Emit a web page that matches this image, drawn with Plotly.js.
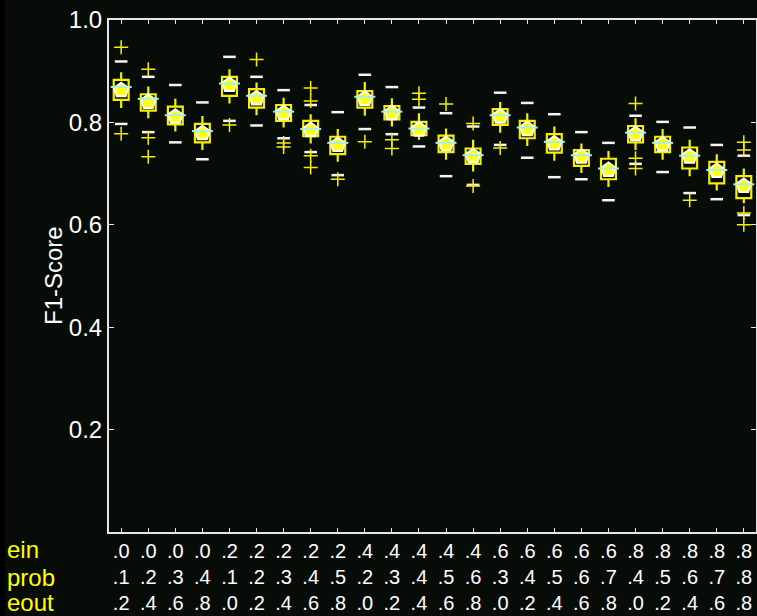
<!DOCTYPE html>
<html>
<head>
<meta charset="utf-8">
<script src="https://cdn.plot.ly/plotly-3.0.1.min.js"></script>
<style>
  html, body { margin: 0; padding: 0; background: #000; }
  #chart { position: absolute; left: 5px; top: 0; width: 752px; height: 616px; }
</style>
</head>
<body>
<div id="chart"></div>
<script>
// x tick label rows
const ein  = ['.0','.0','.0','.0','.2','.2','.2','.2','.2','.4','.4','.4','.4','.4','.6','.6','.6','.6','.6','.8','.8','.8','.8','.8'];
const prob = ['.1','.2','.3','.4','.1','.2','.3','.4','.5','.2','.3','.4','.5','.6','.3','.4','.5','.6','.7','.4','.5','.6','.7','.8'];
const eout = ['.2','.4','.6','.8','.0','.2','.4','.6','.8','.0','.2','.4','.6','.8','.0','.2','.4','.6','.8','.0','.2','.4','.6','.8'];

// box statistics (F1-Score)
const q1     = [.844,.823,.796,.761,.852,.829,.803,.773,.738,.829,.806,.775,.742,.719,.795,.769,.741,.715,.689,.761,.742,.710,.681,.652];
const median = [.869,.846,.814,.783,.876,.852,.821,.787,.760,.850,.821,.788,.760,.736,.814,.790,.762,.736,.710,.780,.760,.735,.707,.679];
const q3     = [.883,.855,.831,.797,.889,.865,.834,.803,.772,.861,.832,.801,.774,.749,.826,.803,.777,.746,.729,.793,.772,.751,.723,.695];
const mean   = [.863,.840,.811,.779,.873,.847,.818,.785,.756,.846,.818,.786,.758,.734,.811,.787,.759,.733,.707,.777,.757,.733,.705,.676];
const whiskLo= [.828,.808,.782,.746,.837,.814,.790,.759,.723,.813,.792,.766,.727,.704,.780,.754,.725,.701,.674,.746,.727,.695,.667,.642];
const whiskHi= [.898,.870,.846,.8125,.904,.878,.848,.816,.787,.879,.847,.818,.788,.766,.840,.818,.792,.759,.744,.808,.787,.766,.738,.710];
const capLo  = [.797,.781,.761,.728,.803,.794,.769,.742,.697,.787,.777,.753,.695,.678,.756,.731,.693,.689,.648,.719,.703,.662,.650,.619];
const capHi  = [.919,.889,.873,.839,.928,.889,.863,.834,.820,.893,.869,.829,.818,.792,.858,.838,.816,.781,.760,.813,.801,.790,.756,.735];
// outliers: [category index, value]
const outIdx = [0,0, 1,1,1, 4, 5, 6,6, 7,7,7,7, 8, 9, 10,10, 11,11, 12, 13,13, 14, 19,19,19, 21, 23,23,23,23];
const outVal = [.947,.778, .904,.770,.733, .795, .923, .760,.752, .867,.842,.735,.712, .689, .762, .766,.749, .857,.845, .836, .798,.676, .750, .837,.730,.710, .648, .761,.746,.623,.600];

const labels = ein.map((e, i) => e + '<br>' + prob[i] + '<br>' + eout[i]);

const YEL = '#f4f000';
const BG = '#080c08';
const AX = '#e6e6e6';

const traces = [
  {
    type: 'box', x: labels, q1: q1, median: median, q3: q3,
    lowerfence: whiskLo, upperfence: whiskHi,
    boxpoints: false, whiskerwidth: 0, width: 0.55,
    line: { color: YEL, width: 2.2 }, fillcolor: 'rgba(0,0,0,0)',
    hoverinfo: 'skip', showlegend: false
  },
  {
    type: 'scatter', mode: 'markers', x: labels, y: mean,
    marker: { symbol: 'pentagon', size: 15, color: '#ffff10', line: { color: '#ffffff', width: 2 } },
    showlegend: false, hoverinfo: 'skip'
  },
  {
    type: 'scatter', mode: 'markers', x: labels, y: median,
    marker: { symbol: 'line-ew', size: 15, line: { color: '#a6f2e2', width: 2 } },
    showlegend: false, hoverinfo: 'skip'
  },
  {
    type: 'scatter', mode: 'markers', x: labels.concat(labels), y: capLo.concat(capHi),
    marker: { symbol: 'line-ew', size: 9, line: { color: '#f4f4f4', width: 2.5 } },
    showlegend: false, hoverinfo: 'skip'
  },
  {
    type: 'scatter', mode: 'markers', x: outIdx.map(i => labels[i]), y: outVal,
    marker: { symbol: 'cross-thin', size: 10, line: { color: YEL, width: 1.5 } },
    showlegend: false, hoverinfo: 'skip'
  }
];

const px2x = p => (p - 5 - 104) / 647;
const px2y = p => (532 - p) / 512;
const rowFont = { family: 'Liberation Sans, Arial, sans-serif', size: 24, color: '#ffff00' };

const layout = {
  width: 752, height: 616,
  margin: { l: 104, r: 1, t: 20, b: 84 },
  paper_bgcolor: BG, plot_bgcolor: BG,
  showlegend: false,
  xaxis: {
    type: 'category', range: [-0.45, 23.45],
    showline: true, linecolor: AX, linewidth: 2, mirror: 'ticks',
    ticks: 'inside', ticklen: 4, tickwidth: 1, tickcolor: AX,
    tickangle: 0, showgrid: false, zeroline: false,
    tickfont: { family: 'Liberation Sans, Arial, sans-serif', size: 20, color: '#ffffff' }
  },
  yaxis: {
    range: [0, 1], tickvals: [0.2, 0.4, 0.6, 0.8, 1.0], ticktext: ['0.2', '0.4', '0.6', '0.8', '1.0'],
    showline: true, linecolor: AX, linewidth: 2, mirror: 'ticks',
    ticks: 'inside', ticklen: 5, tickwidth: 1, tickcolor: AX,
    showgrid: false, zeroline: false,
    tickfont: { family: 'Liberation Sans, Arial, sans-serif', size: 24, color: '#ffffff' }
  },
  annotations: [
    { text: 'F1-Score', xref: 'paper', yref: 'paper', x: px2x(53), y: 0.5, textangle: -90,
      showarrow: false, xanchor: 'center', yanchor: 'middle',
      font: { family: 'Liberation Sans, Arial, sans-serif', size: 24, color: '#ffffff' } },
    { text: 'ein', xref: 'paper', yref: 'paper', x: px2x(5), y: px2y(549), showarrow: false, xanchor: 'left', yanchor: 'middle', font: rowFont },
    { text: 'prob', xref: 'paper', yref: 'paper', x: px2x(5), y: px2y(577), showarrow: false, xanchor: 'left', yanchor: 'middle', font: rowFont },
    { text: 'eout', xref: 'paper', yref: 'paper', x: px2x(5), y: px2y(602), showarrow: false, xanchor: 'left', yanchor: 'middle', font: rowFont }
  ]
};

Plotly.newPlot('chart', traces, layout, { displayModeBar: false, staticPlot: true });
</script>
</body>
</html>
